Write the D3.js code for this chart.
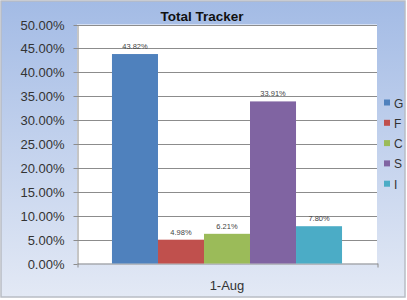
<!DOCTYPE html>
<html><head><meta charset="utf-8">
<script src="https://cdn.jsdelivr.net/npm/d3@7"></script>
<style>body{margin:0;background:#fff}svg{display:block}</style>
</head><body>
<script>
const categories = ["1-Aug"];
const seriesNames = ["G", "F", "C", "S", "I"];
const seriesValues = [0.4382, 0.0498, 0.0621, 0.3391, 0.0780];
const seriesColors = ["#4f81bd", "#c0504d", "#9bbb59", "#8064a2", "#4bacc6"];
const yTicks = [0, 0.05, 0.10, 0.15, 0.20, 0.25, 0.30, 0.35, 0.40, 0.45, 0.50];

const W = 407, H = 300;
const svg = d3.select("body").append("svg").attr("width", W).attr("height", H);
const defs = svg.append("defs");
const g = defs.append("linearGradient").attr("id", "bg").attr("x1", 0).attr("y1", 0).attr("x2", 0).attr("y2", 1);
g.append("stop").attr("offset", "0%").attr("stop-color", "#a3bbe5");
g.append("stop").attr("offset", "100%").attr("stop-color", "#e3e9f5");

svg.append("rect").attr("x", 1).attr("y", 1).attr("width", W - 3).attr("height", H - 4)
  .attr("fill", "url(#bg)").attr("stroke", "#b8bcc4").attr("stroke-width", 1.5);

const m = {left: 77, right: 377, top: 24.5, bottom: 263.5};
const y = d3.scaleLinear().domain([0, 0.5]).range([m.bottom, m.top]);
const x0 = d3.scaleBand().domain(categories).range([m.left, m.right]).paddingInner(0).paddingOuter(0.152);
const x1 = d3.scaleBand().domain(seriesNames).range([0, x0.bandwidth()]);

svg.append("rect").attr("x", m.left).attr("y", m.top).attr("width", m.right - m.left).attr("height", m.bottom - m.top).attr("fill", "#fff");

// gridlines
svg.append("g").selectAll("line").data(yTicks.slice(1)).join("line")
  .attr("x1", m.left).attr("x2", m.right)
  .attr("y1", d => Math.round(y(d)) + 0.5).attr("y2", d => Math.round(y(d)) + 0.5)
  .attr("stroke", "#8c8c8c").attr("stroke-width", 1);

// y axis
const yAxis = d3.axisLeft(y).tickValues(yTicks).tickFormat(d3.format(".2%")).tickSizeInner(4).tickSizeOuter(0).tickPadding(9);
const ya = svg.append("g").attr("transform", `translate(${m.left + 0.5},0.5)`).call(yAxis);
ya.selectAll("path,line").attr("stroke", "#8c8c8c");
ya.selectAll("text").attr("font-family", "Liberation Sans, Arial, sans-serif").attr("font-size", 13).attr("fill", "#333");
ya.selectAll(".tick").attr("transform", d => `translate(0,${Math.round(y(d))})`);

// x axis
const xa = svg.append("g").attr("transform", `translate(0.5,${m.bottom})`)
  .call(d3.axisBottom(d3.scaleLinear().domain([0, 1]).range([m.left, m.right])).tickValues([0, 1]).tickFormat("").tickSizeInner(4).tickSizeOuter(0));
xa.selectAll("path,line").attr("stroke", "#8c8c8c");

svg.append("g").selectAll("text").data(categories).join("text")
  .attr("x", d => x0(d) + x0.bandwidth() / 2).attr("y", 290)
  .attr("text-anchor", "middle").attr("font-family", "Liberation Sans, Arial, sans-serif").attr("font-size", 13).attr("fill", "#333")
  .text(d => d);

// bars
const bars = svg.append("g");
categories.forEach(c => {
  seriesNames.forEach((s, i) => {
    const v = seriesValues[i];
    bars.append("rect").attr("x", x0(c) + x1(s)).attr("y", y(v)).attr("width", x1.bandwidth()).attr("height", y(0) - y(v)).attr("fill", seriesColors[i]);
    bars.append("text").attr("x", x0(c) + x1(s) + x1.bandwidth() / 2).attr("y", y(v) - 5)
      .attr("text-anchor", "middle").attr("font-family", "Liberation Sans, Arial, sans-serif").attr("font-size", 7.5).attr("fill", "#444")
      .text(d3.format(".2%")(v));
  });
});

// title
svg.append("text").attr("x", 202).attr("y", 21).attr("text-anchor", "middle")
  .attr("font-family", "Liberation Sans, Arial, sans-serif").attr("font-weight", "bold").attr("font-size", 13.5).attr("fill", "#111")
  .text("Total Tracker");

// legend
const lg = svg.append("g").selectAll("g").data(seriesNames).join("g")
  .attr("transform", (d, i) => `translate(384,${103 + i * 20.3})`);
lg.append("rect").attr("x", 0).attr("y", -3.5).attr("width", 6).attr("height", 6).attr("fill", (d, i) => seriesColors[i]);
lg.append("text").attr("x", 10).attr("y", 4.5).attr("font-family", "Liberation Sans, Arial, sans-serif").attr("font-size", 12).attr("fill", "#333").text(d => d);
</script>
</body></html>
